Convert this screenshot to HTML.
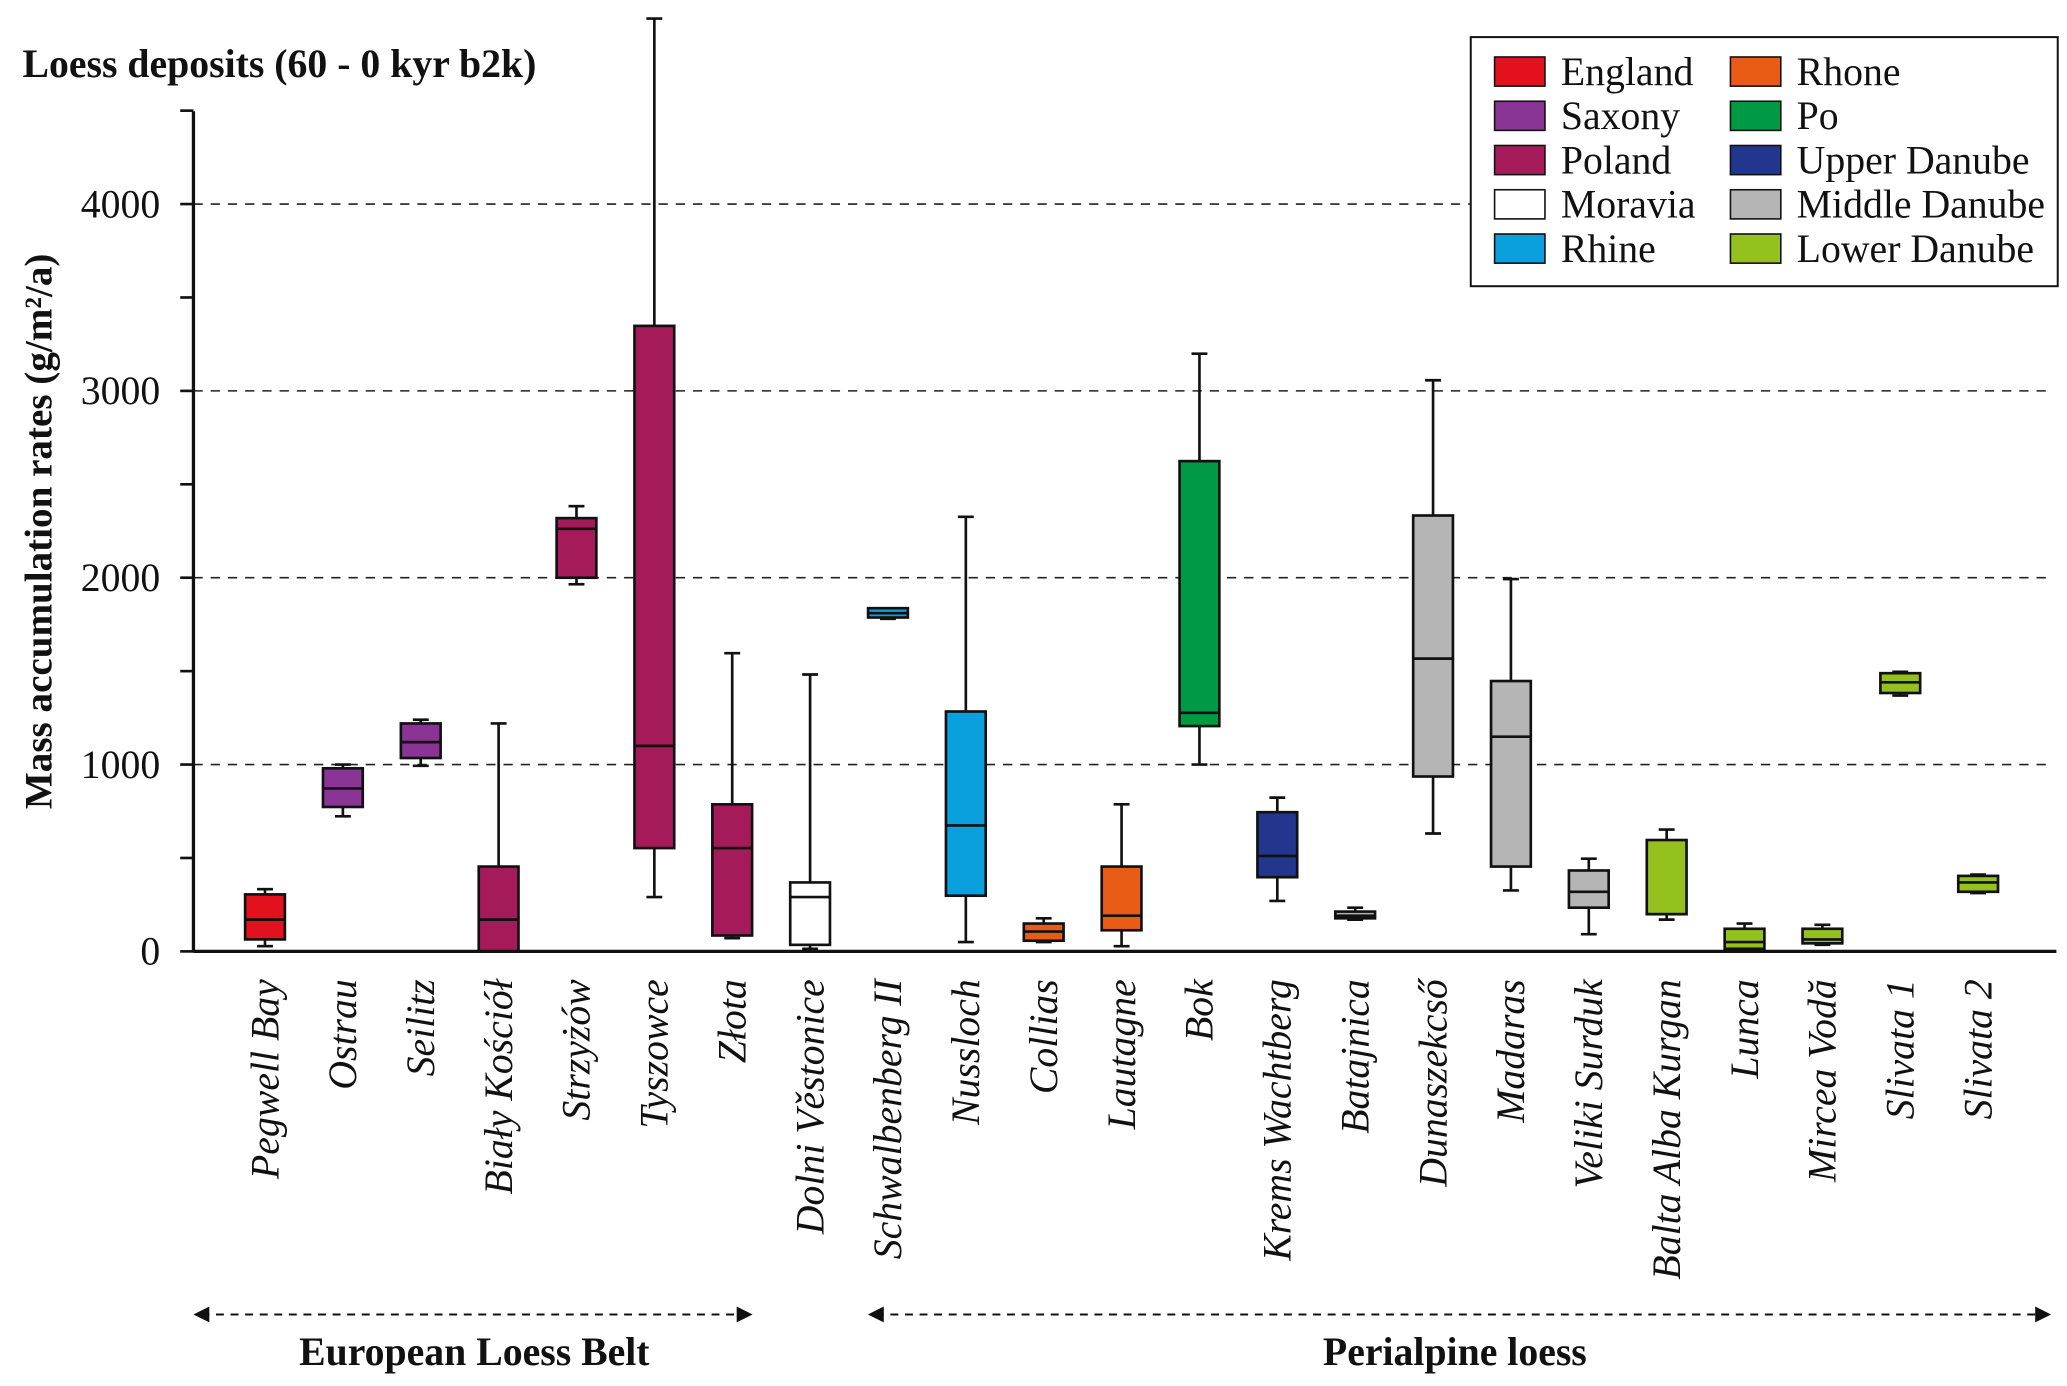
<!DOCTYPE html>
<html><head><meta charset="utf-8"><style>
html,body{margin:0;padding:0;background:#fff}
svg{display:block}
text{font-family:"Liberation Serif","DejaVu Serif",serif;fill:#111}
</style></head><body>
<svg id="chart" width="2067" height="1386" viewBox="0 0 1560 1046" preserveAspectRatio="none" xmlns="http://www.w3.org/2000/svg">
<rect width="1560" height="1046" fill="#fff"/>
<text x="17" y="58" font-size="30" font-weight="bold">Loess deposits (60 - 0 kyr b2k)</text>
<text transform="translate(39,401) rotate(-90)" text-anchor="middle" font-size="29.5" font-weight="bold">Mass accumulation rates (g/m²/a)</text>
<g id="grid"></g><g id="boxes"></g><g id="axes"></g><g id="labels"></g>
<g id="legend"><rect x="1110" y="28" width="443" height="188" fill="#fff" stroke="#111" stroke-width="1.5"/></g>
<g stroke="#111" stroke-width="1.5" fill="#111">
<line x1="152" y1="992" x2="562" y2="992" stroke-dasharray="6,5"/>
<path d="M146 992 L158 986 L158 998 Z" stroke="none"/><path d="M568 992 L556 986 L556 998 Z" stroke="none"/>
<line x1="661" y1="992" x2="1542" y2="992" stroke-dasharray="6,5"/>
<path d="M655 992 L667 986 L667 998 Z" stroke="none"/><path d="M1548 992 L1536 986 L1536 998 Z" stroke="none"/>
</g>
<text x="358" y="1030" text-anchor="middle" font-size="30" font-weight="bold">European Loess Belt</text>
<text x="1098" y="1030" text-anchor="middle" font-size="30" font-weight="bold">Perialpine loess</text>
</svg>
<script>
const sites=["Pegwell Bay","Ostrau","Seilitz","Biały Kościół","Strzyżów","Tyszowce","Złota","Dolni Věstonice","Schwalbenberg II","Nussloch","Collias","Lautagne","Bok","Krems Wachtberg","Batajnica","Dunaszekcső","Madaras","Veliki Surduk","Balta Alba Kurgan","Lunca","Mircea Vodă","Slivata 1","Slivata 2"];
const regions=["England","Saxony","Saxony","Poland","Poland","Poland","Poland","Moravia","Rhine","Rhine","Rhone","Rhone","Po","Upper Danube","Middle Danube","Middle Danube","Middle Danube","Middle Danube","Lower Danube","Lower Danube","Lower Danube","Lower Danube","Lower Danube"];
const mins=[28,723,993,0,1965,291,71,14,1780,50,50,28,1000,270,170,631,326,92,170,7,35,1369,312];
const q1s=[64,773,1035,0,2000,553,85,35,1787,298,57,113,1206,397,177,936,454,234,199,14,43,1383,319];
const medians=[170,872,1120,170,2262,1100,553,291,1810,674,106,191,1277,511,191,1567,1149,319,199,50,64,1440,369];
const q3s=[305,980,1220,454,2319,3348,787,369,1837,1284,149,454,2624,745,213,2333,1447,433,596,121,121,1489,404];
const maxs=[333,1000,1240,1220,2383,4993,1596,1482,1823,2326,177,787,3199,823,234,3057,1993,496,652,149,142,1496,411];
const legendNames=["England","Saxony","Poland","Moravia","Rhine","Rhone","Po","Upper Danube","Middle Danube","Lower Danube"];
const legendColors=["#e3111e","#8a3596","#a51b5a","#ffffff","#0aa0de","#e85c15","#009a45","#22368e","#b5b5b5","#95c11f"];
const yTicks=[0,1000,2000,3000,4000];
const gridLines=[1000,2000,3000,4000];
const NS="http://www.w3.org/2000/svg";
const y=v=>718-v*0.141;
const x=i=>200+i*58.77;
function mk(tag,attrs,parent){const e=document.createElementNS(NS,tag);for(const k in attrs)e.setAttribute(k,attrs[k]);parent.appendChild(e);return e;}
const G=id=>document.getElementById(id);
gridLines.forEach(v=>{const l=mk('line',{x1:146,x2:1550,y1:y(v),y2:y(v),stroke:'#222','stroke-width':1.2,'stroke-dasharray':'7,6'},G('grid'));

});
const ax=G('axes');
let a=mk('line',{x1:146,x2:146,y1:84,y2:718,stroke:'#111','stroke-width':2.5},ax);


a=mk('line',{x1:146,x2:1552,y1:718,y2:718,stroke:'#111','stroke-width':2.5},ax);


for(let v=0;v<=4500;v+=500){mk('line',{x1:136,x2:146,y1:y(v),y2:y(v),stroke:'#111','stroke-width':2},ax);}
yTicks.forEach(v=>{const t=mk('text',{x:121,y:y(v)+10,'text-anchor':'end','font-size':30},ax);t.textContent=v;

});
const bx=G('boxes');
sites.forEach((s,i)=>{const c=x(i),w=15,col=legendColors[legendNames.indexOf(regions[i])];
const g=mk('g',{stroke:'#111','stroke-width':2},bx);


mk('line',{x1:c,x2:c,y1:y(maxs[i]),y2:y(mins[i])},g);
mk('line',{x1:c-6,x2:c+6,y1:y(maxs[i]),y2:y(maxs[i])},g);
mk('line',{x1:c-6,x2:c+6,y1:y(mins[i]),y2:y(mins[i])},g);
mk('rect',{x:c-w,y:y(q3s[i]),width:2*w,height:Math.max(1,y(q1s[i])-y(q3s[i])),fill:col},g);
mk('line',{x1:c-w,x2:c+w,y1:y(medians[i]),y2:y(medians[i])},g);
const t=mk('text',{transform:`translate(${c+10},739) rotate(-90)`,'text-anchor':'end','font-size':30,'font-style':'italic'},G('labels'));
t.textContent=s;

});
const lg=G('legend');
legendNames.forEach((n,i)=>{const col=Math.floor(i/5),r=i%5,sx=col?1306:1128,yy=54+r*33.4;
const g=mk('g',{},lg);


mk('rect',{x:sx,y:yy-11,width:38,height:22,fill:legendColors[i],stroke:'#111','stroke-width':1.2},g);
const t=mk('text',{x:sx+50,y:yy+10,'font-size':30},g);t.textContent=n;});
</script>
</body></html>
